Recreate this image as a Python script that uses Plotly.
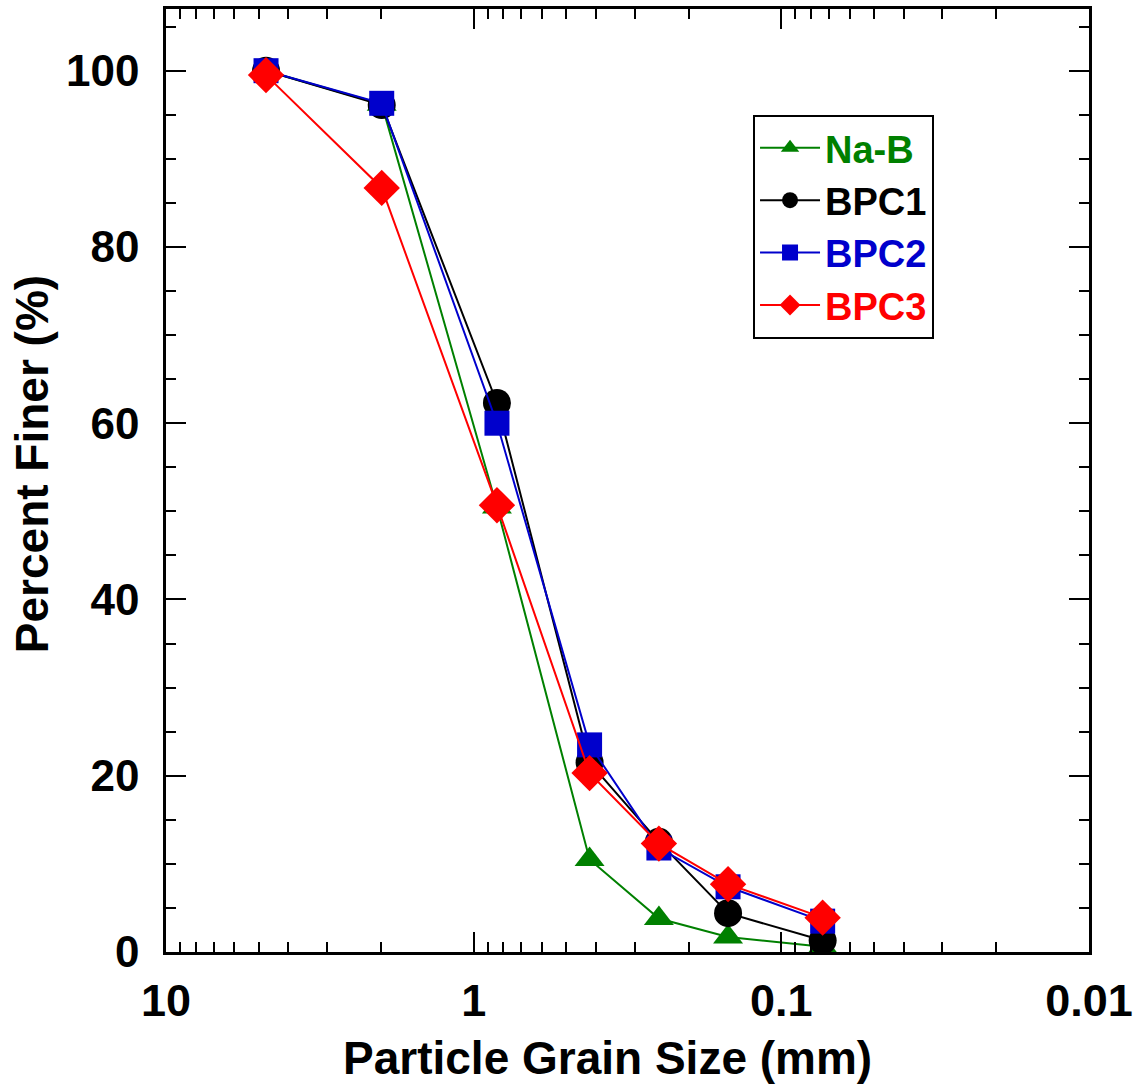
import plotly.graph_objects as go

sizes_mm = [4.73, 1.99, 0.84, 0.42, 0.25, 0.149, 0.0734]
na_b = [100.0, 96.2, 50.5, 10.5, 3.8, 1.7, 0.6]
bpc1 = [100.0, 96.1, 62.3, 21.5, 12.5, 4.4, 1.3]
bpc2 = [100.0, 96.3, 60.0, 23.5, 11.8, 7.4, 3.5]
bpc3 = [99.5, 86.7, 50.7, 20.3, 12.3, 7.7, 3.9]

x_tickvals = [10, 1, 0.1, 0.01]
x_ticktext = ["10", "1", "0.1", "0.01"]
y_tickvals = [0, 20, 40, 60, 80, 100]

series = [
    ("Na-B", na_b, "#008000", "triangle-up", 26),
    ("BPC1", bpc1, "#000000", "circle", 28),
    ("BPC2", bpc2, "#0000CC", "square", 25),
    ("BPC3", bpc3, "#FF0000", "diamond", 28),
]

fig = go.Figure()
for name, vals, col, sym, sz in series:
    fig.add_trace(go.Scatter(
        x=sizes_mm, y=vals, mode="lines+markers",
        name=f"<span style='color:{col}'><b>{name}</b></span>",
        line=dict(color=col, width=2),
        marker=dict(color=col, symbol=sym, size=sz, line=dict(width=0)),
    ))

font_family = "Liberation Sans, Arial, sans-serif"
fig.update_layout(
    width=1135, height=1088,
    margin=dict(l=166, r=46, t=9, b=136, autoexpand=False),
    plot_bgcolor="white", paper_bgcolor="white",
    font=dict(family=font_family, size=40, color="black"),
    showlegend=True,
    legend=dict(
        x=0.636, y=0.888, xanchor="left", yanchor="top",
        bordercolor="black", borderwidth=2, bgcolor="white",
        font=dict(size=38, family=font_family),
        itemwidth=60, tracegroupgap=0,
    ),
    xaxis=dict(
        type="log", range=[1, -2], automargin=False,
        tickvals=x_tickvals, ticktext=[f"<b>{t}</b>" for t in x_ticktext],
        ticks="inside", ticklen=20, tickwidth=2, tickcolor="black",
        showline=True, linewidth=2.5, linecolor="black", mirror="ticks",
        showgrid=False, zeroline=False,
        minor=dict(ticks="inside", ticklen=10, tickwidth=2, tickcolor="black",
                   tickvals=[9,8,7,6,5,4,3,2,0.9,0.8,0.7,0.6,0.5,0.4,0.3,0.2,
                             0.09,0.08,0.07,0.06,0.05,0.04,0.03,0.02], showgrid=False),
        tickfont=dict(size=45),
        ticklabelstandoff=7,
        ticklabeloverflow="allow",
    ),
    yaxis=dict(
        range=[0, 107], automargin=False,
        tickvals=y_tickvals, ticktext=[f"<b>{v}</b>" for v in y_tickvals],
        ticks="inside", ticklen=20, tickwidth=2, tickcolor="black",
        showline=True, linewidth=2.5, linecolor="black", mirror="ticks",
        showgrid=False, zeroline=False,
        minor=dict(ticks="inside", ticklen=10, tickwidth=2, tickcolor="black",
                   dtick=5, tick0=0, showgrid=False),
        tickfont=dict(size=44),
        ticklabelstandoff=15,
        ticklabeloverflow="allow",
    ),
    annotations=[
        dict(text="<b>Particle Grain Size (mm)</b>", xref="paper", yref="paper",
             x=0.478, y=-0.142, xanchor="center", yanchor="bottom", showarrow=False,
             font=dict(size=46)),
        dict(text="<b>Percent Finer (%)</b>", xref="paper", yref="paper",
             x=-0.145, y=0.5175, xanchor="center", yanchor="middle", showarrow=False,
             textangle=-90, font=dict(size=46)),
    ],
)

fig.write_html("out.html")
